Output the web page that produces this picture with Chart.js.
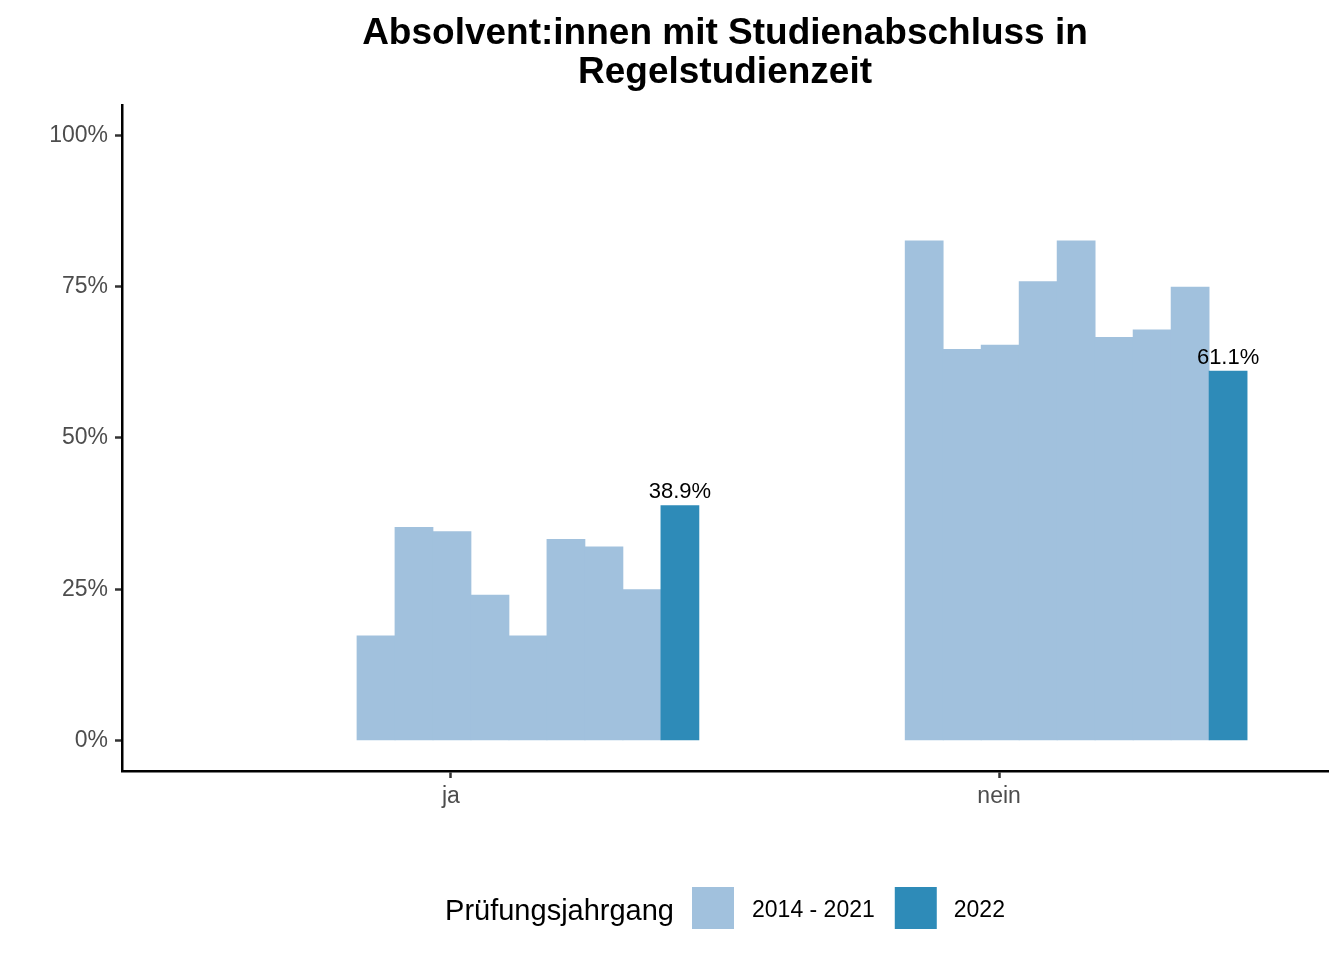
<!DOCTYPE html>
<html>
<head>
<meta charset="utf-8">
<script src="https://cdn.jsdelivr.net/npm/chart.js@4.4.1/dist/chart.umd.min.js"></script>
<style>
  html, body { margin: 0; padding: 0; background: #fff; }
  #wrap { width: 1344px; height: 960px; position: relative; }
</style>
</head>
<body>
<div id="wrap"><canvas id="absChart"></canvas></div>
<script>
const categories = ["ja", "nein"];
const years = ["2014", "2015", "2016", "2017", "2018", "2019", "2020", "2021", "2022"];
const jaValues = [17.4, 35.3, 34.6, 24.1, 17.4, 33.3, 32.1, 25.0, 38.9];
const neinValues = [82.6, 64.7, 65.4, 75.9, 82.6, 66.7, 67.9, 75.0, 61.1];
const legendLabels = ["2014 - 2021", "2022"];
const yTicks = [0, 25, 50, 75, 100];

const colorOld = "#A1C1DD";
const colorNew = "#2E8BB8";
const fontFamily = "'Liberation Sans', Arial, Helvetica, sans-serif";

// dodge: 9 bars next to each other, group slightly right of the category tick
const dodgeStart = -0.1713;
const barUnit = 0.0693;
const barX = (c, i) => c + 1 + dodgeStart + (i + 0.5) * barUnit;

const valuesByCat = [jaValues, neinValues];
const oldData = [];
const newData = [];
valuesByCat.forEach((vals, c) => {
    vals.forEach((v, i) => {
        if (i < years.length - 1) {
            oldData.push({ x: barX(c, i), y: v });
        } else {
            newData.push({ x: barX(c, i), y: v });
        }
    });
});

const labelPlugin = {
    id: "barLabels",
    afterDatasetsDraw(chart) {
        const ctx = chart.ctx;
        const meta = chart.getDatasetMeta(1);
        ctx.save();
        ctx.font = "22px " + fontFamily;
        ctx.fillStyle = "#000";
        ctx.textAlign = "center";
        ctx.textBaseline = "alphabetic";
        meta.data.forEach((el, i) => {
            const v = chart.data.datasets[1].data[i].y;
            ctx.fillText(v.toFixed(1) + "%", el.x, el.y - 7);
        });
        ctx.restore();
    }
};

const legendPlugin = {
    id: "bottomLegend",
    afterDraw(chart) {
        const ctx = chart.ctx;
        const area = chart.chartArea;
        const key = 42;
        ctx.save();
        ctx.font = "29px " + fontFamily;
        const titleW = ctx.measureText("Prüfungsjahrgang").width;
        ctx.font = "23px " + fontFamily;
        const w1 = ctx.measureText(legendLabels[0]).width;
        const w2 = ctx.measureText(legendLabels[1]).width;
        const total = titleW + 18 + key + 18 + w1 + 20 + key + 17 + w2;
        let x = (area.left + area.right) / 2 - total / 2;

        ctx.fillStyle = "#000";
        ctx.textBaseline = "alphabetic";
        ctx.textAlign = "left";
        ctx.font = "29px " + fontFamily;
        ctx.fillText("Prüfungsjahrgang", x, 920);
        x += titleW + 18;

        ctx.fillStyle = colorOld;
        ctx.fillRect(x, 887, key, key);
        x += key + 18;
        ctx.fillStyle = "#000";
        ctx.font = "23px " + fontFamily;
        ctx.fillText(legendLabels[0], x, 917);
        x += w1 + 20;

        ctx.fillStyle = colorNew;
        ctx.fillRect(x, 887, key, key);
        x += key + 17;
        ctx.fillStyle = "#000";
        ctx.fillText(legendLabels[1], x, 917);
        ctx.restore();
    }
};

const ctx = document.getElementById("absChart");
new Chart(ctx, {
    type: "bar",
    data: {
        datasets: [
            {
                label: legendLabels[0],
                data: oldData,
                backgroundColor: colorOld,
                borderWidth: 0,
                grouped: false,
                barPercentage: 1.02,
                categoryPercentage: 1,
                order: 1
            },
            {
                label: legendLabels[1],
                data: newData,
                backgroundColor: colorNew,
                borderWidth: 0,
                grouped: false,
                barPercentage: 1.02,
                categoryPercentage: 1,
                order: 0
            }
        ]
    },
    options: {
        responsive: true,
        maintainAspectRatio: false,
        devicePixelRatio: 1,
        animation: false,
        layout: { padding: { left: 0, right: 16, top: 0, bottom: 0 } },
        plugins: {
            legend: { display: false },
            tooltip: { enabled: false },
            title: {
                display: true,
                fullSize: false,
                text: ["Absolvent:innen mit Studienabschluss in", "Regelstudienzeit"],
                color: "#000",
                font: { family: fontFamily, size: 37, weight: "bold", lineHeight: 1.054 },
                padding: { top: 14, bottom: 13 }
            }
        },
        scales: {
            x: {
                type: "linear",
                offset: false,
                min: 0.4,
                max: 2.6,
                afterBuildTicks: (scale) => {
                    scale.ticks = categories.map((c, i) => ({ value: i + 1 }));
                },
                afterFit: (scale) => { scale.height = 189; },
                ticks: {
                    callback: (v) => categories[v - 1],
                    color: "#4D4D4D",
                    font: { family: fontFamily, size: 23 },
                    padding: 5,
                    maxRotation: 0
                },
                grid: {
                    offset: false,
                    drawOnChartArea: false,
                    drawTicks: true,
                    tickLength: 7,
                    tickWidth: 2.5,
                    tickColor: "#333"
                },
                border: { display: true, color: "#000", width: 2.5 }
            },
            y: {
                type: "linear",
                min: -5,
                max: 105,
                afterBuildTicks: (scale) => {
                    scale.ticks = yTicks.map((v) => ({ value: v }));
                },
                afterFit: (scale) => { scale.width = 122; },
                ticks: {
                    callback: (v) => v + "%",
                    color: "#4D4D4D",
                    font: { family: fontFamily, size: 23 },
                    padding: 7
                },
                grid: {
                    drawOnChartArea: false,
                    drawTicks: true,
                    tickLength: 7,
                    tickWidth: 2.5,
                    tickColor: "#333"
                },
                border: { display: true, color: "#000", width: 2.5 }
            }
        }
    },
    plugins: [labelPlugin, legendPlugin]
});
</script>
</body>
</html>
